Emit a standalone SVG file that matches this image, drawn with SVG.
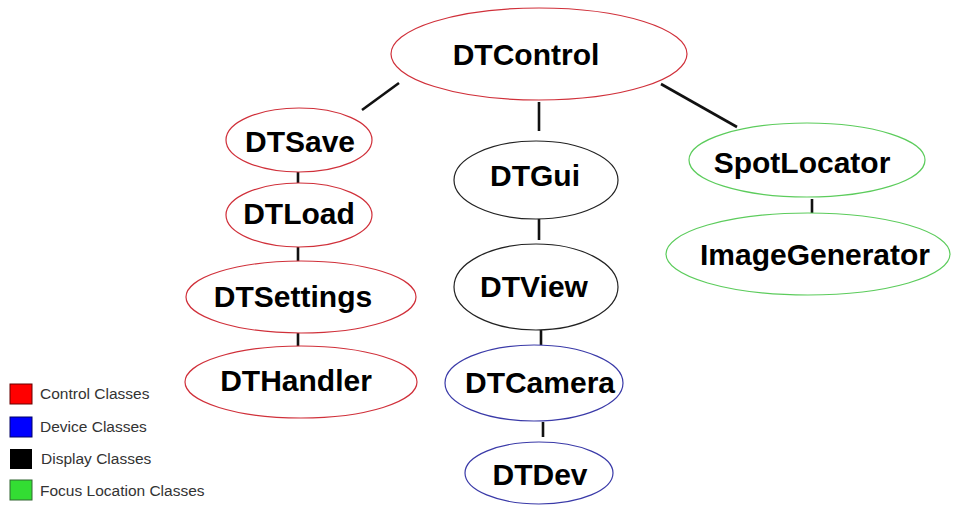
<svg xmlns="http://www.w3.org/2000/svg" width="953" height="506" viewBox="0 0 953 506">
<style>
.n{fill:#fff;stroke-width:1.2}
.r{stroke:#d0303a}
.b{stroke:#3a3aa8}
.k{stroke:#222}
.g{stroke:#5ccc5c}
.t{font-family:"Liberation Sans",Arial,sans-serif;font-weight:bold;font-size:30px;fill:#000;text-anchor:middle}
.c line{stroke:#111;stroke-width:2.6}
.lg{font-family:"Liberation Sans",Arial,sans-serif;font-size:15.5px;fill:#333}
</style>
<rect width="953" height="506" fill="#fff"/>
<g class="c" id="connectors">
<line x1="362" y1="110" x2="399" y2="83"/>
<line x1="539" y1="102" x2="539" y2="131"/>
<line x1="661" y1="84" x2="737" y2="127"/>
<line x1="298" y1="172" x2="298" y2="183"/>
<line x1="298" y1="247" x2="298" y2="262"/>
<line x1="298" y1="333" x2="298" y2="347"/>
<line x1="539" y1="219" x2="539" y2="240"/>
<line x1="541" y1="330" x2="541" y2="345"/>
<line x1="543" y1="422" x2="543" y2="437"/>
<line x1="812" y1="199" x2="812" y2="213"/>
</g>
<g id="DTControl"><ellipse class="n r" cx="539" cy="54" rx="148" ry="46"/><text class="t" x="526" y="65">DTControl</text></g>
<g id="DTSave"><ellipse class="n r" cx="299" cy="140" rx="73" ry="32"/><text class="t" x="300" y="152">DTSave</text></g>
<g id="DTLoad"><ellipse class="n r" cx="299" cy="215" rx="73" ry="32"/><text class="t" x="299" y="224">DTLoad</text></g>
<g id="DTSettings"><ellipse class="n r" cx="301" cy="297" rx="115" ry="36"/><text class="t" x="293" y="307">DTSettings</text></g>
<g id="DTHandler"><ellipse class="n r" cx="301" cy="382" rx="116" ry="36"/><text class="t" x="296" y="391">DTHandler</text></g>
<g id="DTGui"><ellipse class="n k" cx="536" cy="180" rx="82" ry="39"/><text class="t" x="535" y="186">DTGui</text></g>
<g id="DTView"><ellipse class="n k" cx="536" cy="287" rx="82" ry="43"/><text class="t" x="534" y="297">DTView</text></g>
<g id="DTCamera"><ellipse class="n b" cx="534" cy="383" rx="89" ry="38"/><text class="t" x="540" y="393">DTCamera</text></g>
<g id="DTDev"><ellipse class="n b" cx="539" cy="473" rx="74" ry="31"/><text class="t" x="540" y="485">DTDev</text></g>
<g id="SpotLocator"><ellipse class="n g" cx="807" cy="160" rx="118" ry="37"/><text class="t" x="802" y="173">SpotLocator</text></g>
<g id="ImageGenerator"><ellipse class="n g" cx="808" cy="254" rx="142" ry="41"/><text class="t" x="815" y="265">ImageGenerator</text></g>
<g id="legend">
<rect x="10" y="384" width="22" height="20" fill="#f00" stroke="#600" stroke-width="1"/>
<text class="lg" x="40" y="399">Control Classes</text>
<rect x="10" y="417" width="22" height="20" fill="#00f" stroke="#006" stroke-width="1"/>
<text class="lg" x="40" y="432">Device Classes</text>
<rect x="10" y="449" width="22" height="20" fill="#000"/>
<text class="lg" x="41" y="464">Display Classes</text>
<rect x="10" y="480" width="22" height="20" fill="#3d3" stroke="#363" stroke-width="1"/>
<text class="lg" x="40" y="496">Focus Location Classes</text>
</g>
</svg>
